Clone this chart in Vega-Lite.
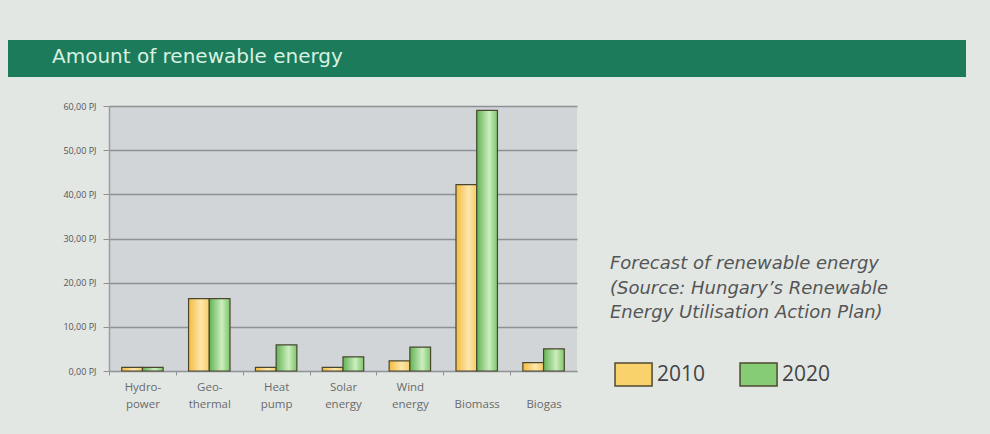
{
  "$schema": "https://vega.github.io/schema/vega-lite/v6.json",
  "background": "#e2e7e4",
  "padding": {"left": 8, "top": 40, "right": 24, "bottom": 30},
  "spacing": 25,
  "config": {"font": "Open Sans", "view": {"stroke": null}},
  "vconcat": [
    {
      "width": 958,
      "height": 37,
      "view": {"fill": "#1b7b5a", "stroke": null},
      "title": {"text": "Amount of renewable energy", "anchor": "start", "frame": "group", "offset": -19, "dy": 18, "dx": 44, "baseline": "middle", "fontSize": 20, "fontWeight": "normal", "color": "#d8f0e2", "font": "DejaVu Sans"},
      "data": {"values": [{"t": 1}]},
      "mark": {"type": "point", "opacity": 0, "size": 0},
      "encoding": {}
    },
    {
      "spacing": 0,
      "hconcat": [
        {
          "width": 1,
          "height": 265,
          "data": {"values": [{"t": 1}]},
          "mark": {"type": "point", "opacity": 0, "size": 0},
          "encoding": {}
        },
        {
          "width": 468,
          "height": 265,
          "view": {"fill": "#d2d5d8", "stroke": null},
          "data": {"values": [
            {"source": "Hydropower", "year": "2010", "value": 0.8},
            {"source": "Hydropower", "year": "2020", "value": 0.8},
            {"source": "Geothermal", "year": "2010", "value": 16.4},
            {"source": "Geothermal", "year": "2020", "value": 16.4},
            {"source": "Heat pump", "year": "2010", "value": 0.8},
            {"source": "Heat pump", "year": "2020", "value": 5.9},
            {"source": "Solar energy", "year": "2010", "value": 0.8},
            {"source": "Solar energy", "year": "2020", "value": 3.2},
            {"source": "Wind energy", "year": "2010", "value": 2.3},
            {"source": "Wind energy", "year": "2020", "value": 5.4},
            {"source": "Biomass", "year": "2010", "value": 42.2},
            {"source": "Biomass", "year": "2020", "value": 59.0},
            {"source": "Biogas", "year": "2010", "value": 1.9},
            {"source": "Biogas", "year": "2020", "value": 5.0}
          ]},
          "encoding": {
            "x": {
              "field": "source", "type": "nominal",
              "sort": ["Hydropower", "Geothermal", "Heat pump", "Solar energy", "Wind energy", "Biomass", "Biogas"],
              "scale": {"paddingInner": 0.38, "paddingOuter": 0.19},
              "axis": {
                "title": null, "labelAngle": 0, "labelFontSize": 11.5, "labelColor": "#6a6a6a", "labelLineHeight": 17,
                "labelPadding": 6, "tickSize": 4, "tickColor": "#8f9396", "domainColor": "#8f9396",
                "bandPosition": 0, "tickOffset": -12.7, "labelOffset": 12.7,
                "labelExpr": "datum.value == 'Hydropower' ? ['Hydro-', 'power'] : datum.value == 'Geothermal' ? ['Geo-', 'thermal'] : indexof(datum.value, ' ') > 0 ? split(datum.value, ' ') : ['', datum.value]"
              }
            },
            "xOffset": {"field": "year", "type": "nominal"},
            "y": {
              "field": "value", "type": "quantitative",
              "scale": {"domain": [0, 60], "nice": false},
              "axis": {
                "title": null, "values": [0, 10, 20, 30, 40, 50, 60], "labelFontSize": 9, "labelColor": "#555555",
                "labelExpr": "replace(format(datum.value, '.2f'), '.', ',') + ' PJ'",
                "grid": true, "gridColor": "#8d9194", "gridWidth": 1.5, "domainColor": "#9a9ea0", "domainWidth": 1.5,
                "tickSize": 6, "tickColor": "#8d9194", "labelPadding": 7, "minExtent": 100
              }
            }
          },
          "layer": [
            {
              "mark": {"type": "bar"},
              "encoding": {
                "fill": {
                  "field": "year", "type": "nominal",
                  "scale": {"domain": ["2010", "2020"], "range": ["#fad26c", "#86cc74"]},
                  "legend": {
                    "orient": "none", "legendX": 602, "legendY": 215, "direction": "horizontal",
                    "title": ["Forecast of renewable energy", "(Source: Hungary\u2019s Renewable", "Energy Utilisation Action Plan)"],
                    "titleFont": "DejaVu Sans", "titleFontStyle": "italic", "titleFontWeight": "normal", "titleFontSize": 18, "titleColor": "#555555",
                    "titleLineHeight": 24.5, "titlePadding": 40, "titleLimit": 500,
                    "symbolType": "M-0.65,-1L2.57,-1L2.57,1L-0.65,1Z", "symbolSize": 529, "symbolStrokeColor": "#4f4a30", "symbolStrokeWidth": 1.5,
                    "labelFontSize": 21, "labelColor": "#444444", "labelOffset": 22, "columnPadding": 29
                  }
                }
              }
            },
            {
              "mark": {"type": "bar", "stroke": "#4a4730", "strokeWidth": 1.2},
              "encoding": {
                "fill": {
                  "condition": {
                    "test": "datum.year === '2010'",
                    "value": {"gradient": "linear", "x1": 0, "y1": 0, "x2": 1, "y2": 0, "stops": [
                      {"offset": 0, "color": "#f5bb3e"}, {"offset": 0.6, "color": "#fde7ad"}, {"offset": 1, "color": "#f7cd66"}]}
                  },
                  "value": {"gradient": "linear", "x1": 0, "y1": 0, "x2": 1, "y2": 0, "stops": [
                    {"offset": 0, "color": "#62b354"}, {"offset": 0.6, "color": "#cdeec0"}, {"offset": 1, "color": "#7bc669"}]}
                }
              }
            }
          ]
        }
      ]
    }
  ]
}
